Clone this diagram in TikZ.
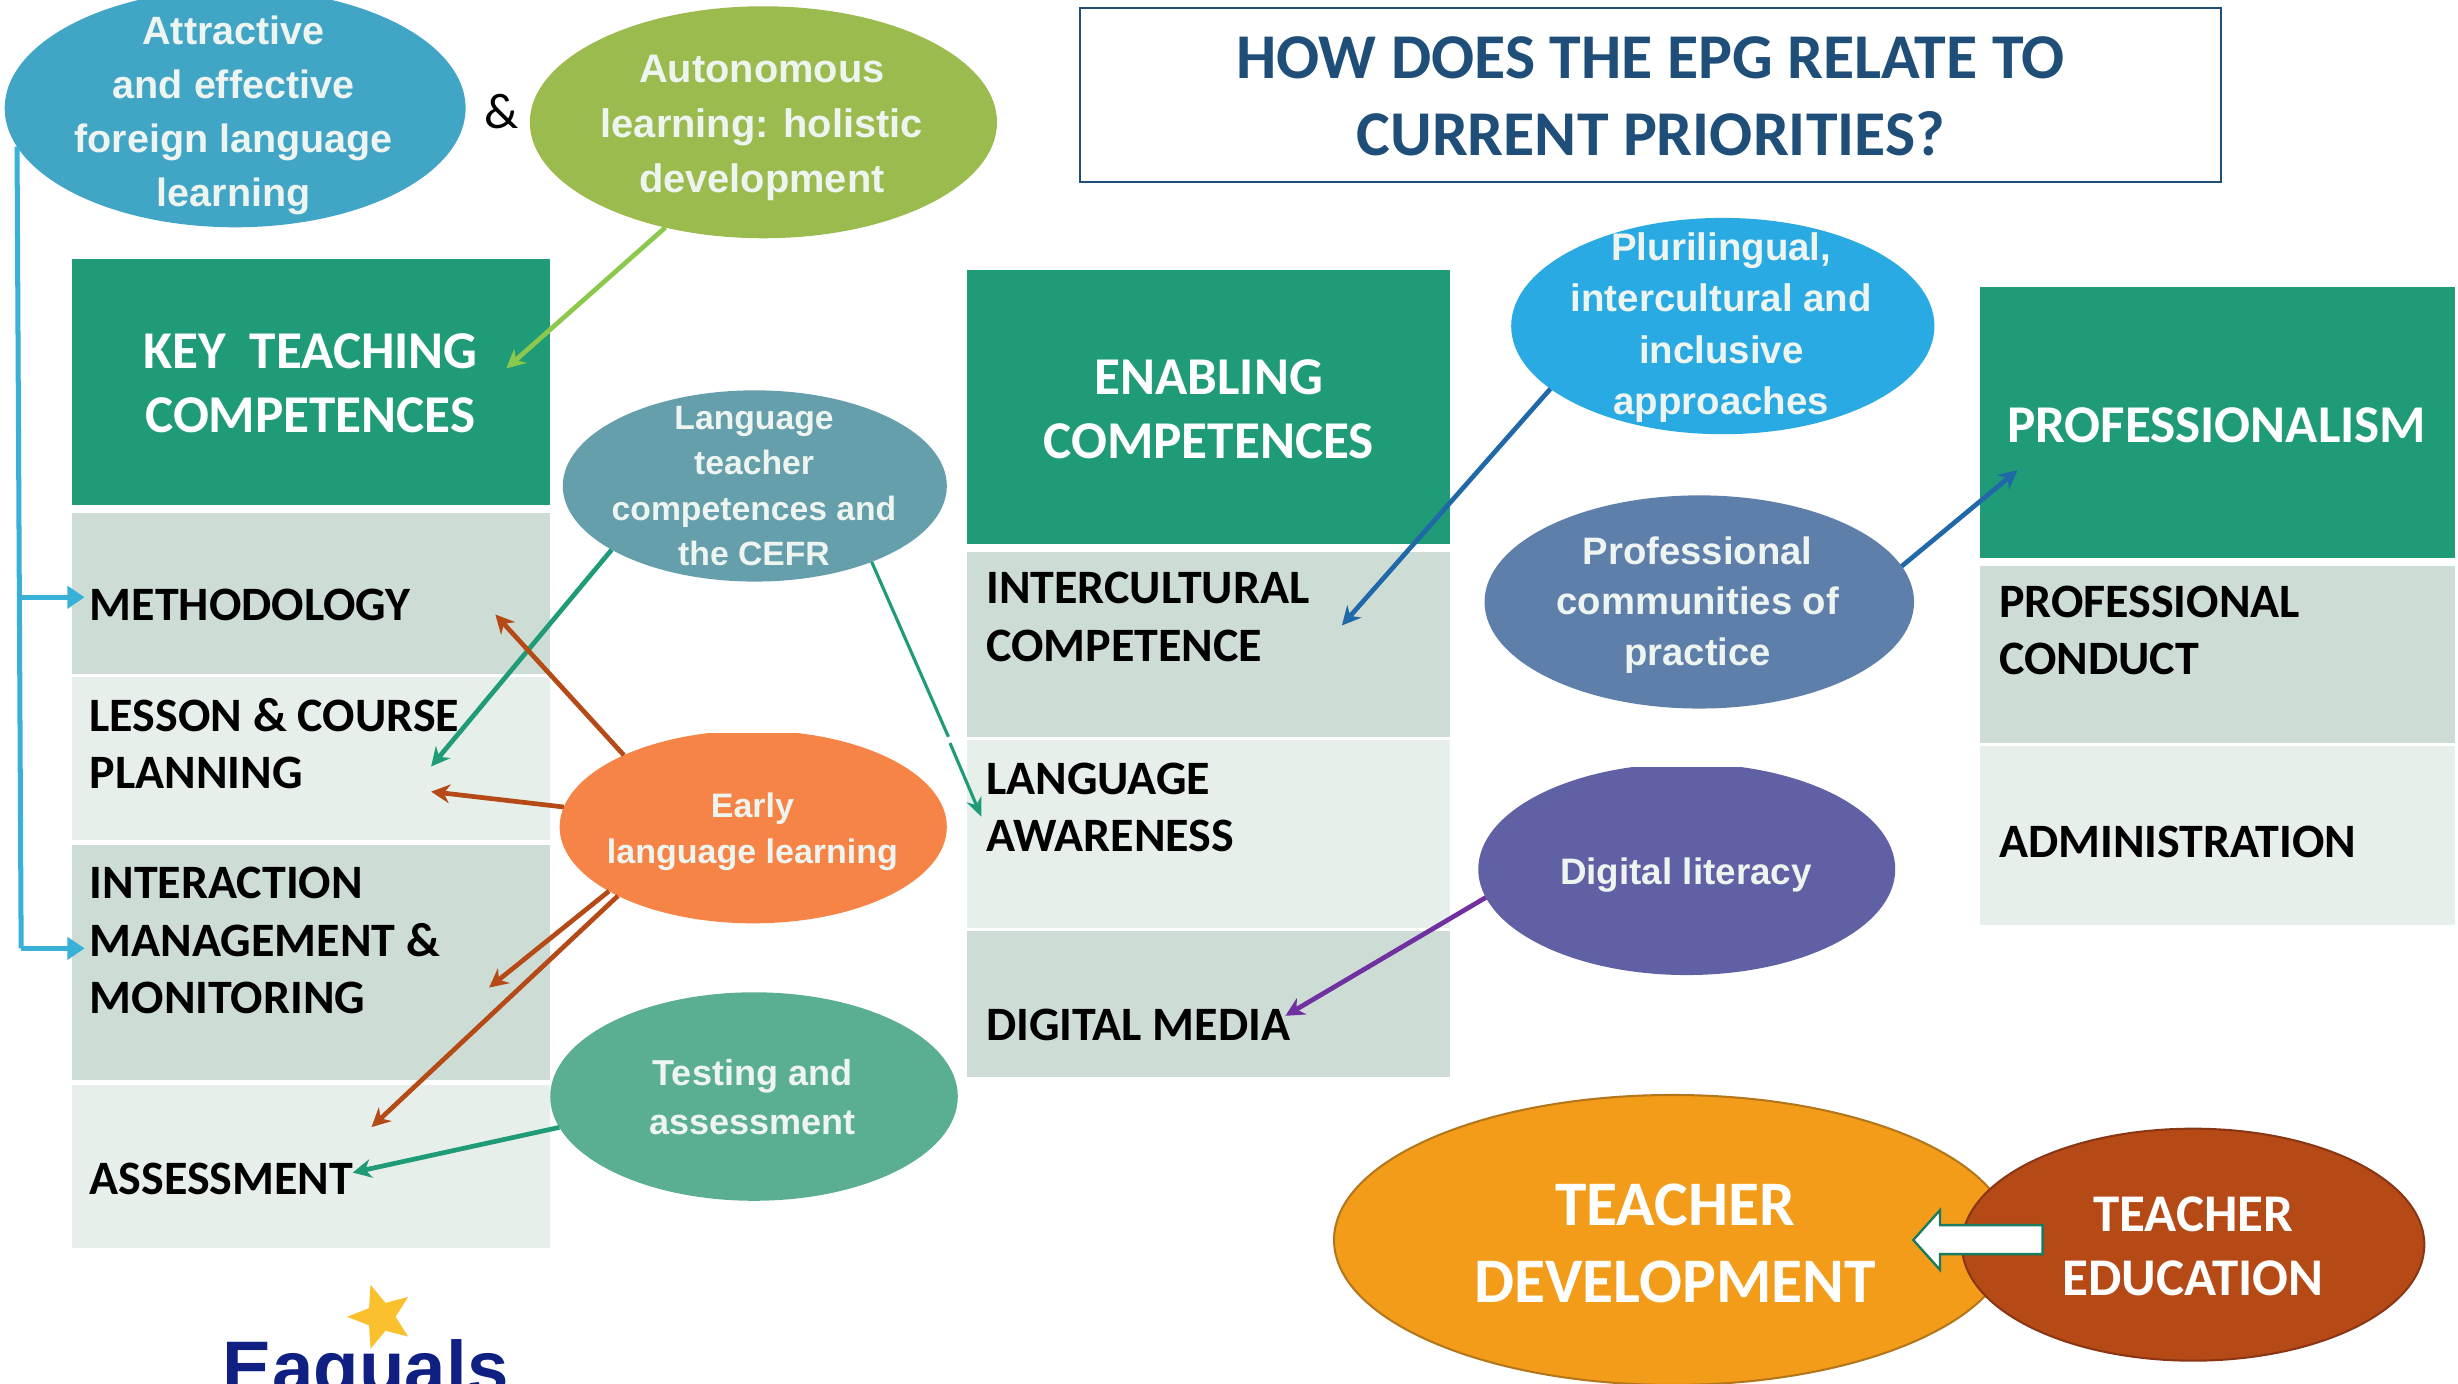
\documentclass[tikz,border=0pt]{standalone}
\usepackage{fontspec}
\setmainfont{Liberation Sans}
\newfontfamily\carl{Carlito}
\usetikzlibrary{arrows.meta,shapes.geometric}
\newcommand\fsz[2]{\fontsize{#1}{#2}\selectfont}
\definecolor{hdr}{HTML}{1F9B78}
\definecolor{rowd}{HTML}{CDDDD5}
\definecolor{rowl}{HTML}{E7EFEB}
\definecolor{titleblue}{HTML}{1F4E79}
\definecolor{ovalw}{HTML}{EEF4F0}
\definecolor{cAttr}{HTML}{41A5C6}
\definecolor{cAuto}{HTML}{9BBB4F}
\definecolor{cLang}{HTML}{659FAC}
\definecolor{cEarly}{HTML}{F68446}
\definecolor{cTest}{HTML}{5AAE92}
\definecolor{cPluri}{HTML}{2AAAE2}
\definecolor{cProf}{HTML}{5F7FAB}
\definecolor{cDig}{HTML}{6060A4}
\definecolor{cDev}{HTML}{F39C1A}
\definecolor{cDevB}{HTML}{B3761A}
\definecolor{cEdu}{HTML}{B54A17}
\definecolor{cEduB}{HTML}{8A3614}
\definecolor{aLime}{HTML}{8CC84B}
\definecolor{aBlue}{HTML}{38B0D8}
\definecolor{aDeep}{HTML}{2068A8}
\definecolor{aPurple}{HTML}{7030A0}
\definecolor{navy}{HTML}{0F1F82}
\definecolor{starc}{HTML}{FBC02D}
\tikzset{
  oval/.style={ellipse,draw=none,inner sep=0pt,outer sep=0pt},
  band/.style={rectangle,draw=none,inner sep=0pt,outer sep=0pt,anchor=north west},
  ot/.style={text=ovalw,font=\bfseries,align=center,inner sep=0pt},
  rowtext/.style={text=black,anchor=west,align=left,inner sep=0pt,font=\carl\bfseries\fsz{30.6}{36.5}},
  headtext/.style={text=white,align=center,inner sep=0pt,font=\carl\bfseries\fsz{33.9}{41}},
  conn/.style={line width=3pt,-{Stealth[length=12pt,width=12pt]}},
  thinconn/.style={line width=2pt,-{Stealth[length=12pt,width=10pt]}},
  bluearrow/.style={line width=3.2pt,-{Triangle[length=11pt,width=14pt]}},
}
\begin{document}
\begin{tikzpicture}[x=1pt,y=-1pt]
\clip (0,0) rectangle (1568,882.25);
\fill[white] (0,0) rectangle (1568,882.25);

% title
\node[rectangle,draw=titleblue,line width=1.2pt,inner sep=0pt,minimum width=728pt,minimum height=111pt] (titlebox) at (1053,60.5) {};
\node[text=titleblue,align=center,inner sep=0pt,font=\carl\bfseries\fsz{40.7}{49}] (titletext) at (1053,61.5) {HOW DOES THE EPG RELATE TO\\CURRENT PRIORITIES?};

% key teaching column
\node[band,fill=hdr,minimum width=305pt,minimum height=157pt] (keyhead) at (46,165) {};
\node[band,fill=rowd,minimum width=305pt,minimum height=103pt] (methrow) at (46,327) {};
\node[band,fill=rowl,minimum width=305pt,minimum height=104pt] (lessrow) at (46,432) {};
\node[band,fill=rowd,minimum width=305pt,minimum height=150pt] (interrow) at (46,539) {};
\node[band,fill=rowl,minimum width=305pt,minimum height=104pt] (assrow) at (46,692) {};
\node[headtext] (keytext) at (198,244.5) {KEY\ \ TEACHING\\COMPETENCES};
\node[rowtext] (methtext) at (57,386) {METHODOLOGY};
\node[rowtext] (lesstext) at (57,474.5) {LESSON \& COURSE\\PLANNING};
\node[rowtext] (intertext) at (57,600) {INTERACTION\\MANAGEMENT \&\\MONITORING};
\node[rowtext] (asstext) at (57,752) {ASSESSMENT};

% enabling column
\node[band,fill=hdr,minimum width=308pt,minimum height=175pt] (enhead) at (617,172) {};
\node[band,fill=rowd,minimum width=308pt,minimum height=118pt] (icrow) at (617,352) {};
\node[band,fill=rowl,minimum width=308pt,minimum height=120pt] (larow) at (617,472) {};
\node[band,fill=rowd,minimum width=308pt,minimum height=93pt] (dmrow) at (617,594) {};
\node[headtext] (entext) at (771,261) {ENABLING\\COMPETENCES};
\node[rowtext] (ictext) at (629,393.5) {INTERCULTURAL\\COMPETENCE};
\node[rowtext] (latext) at (629,515) {LANGUAGE\\AWARENESS};
\node[rowtext] (dmtext) at (629,654) {DIGITAL MEDIA};

% professionalism column
\node[band,fill=hdr,minimum width=303pt,minimum height=173pt] (prhead) at (1263,183) {};
\node[band,fill=rowd,minimum width=303pt,minimum height=113pt] (pcrow) at (1263,361) {};
\node[band,fill=rowl,minimum width=303pt,minimum height=114pt] (adrow) at (1263,476) {};
\node[headtext] (prtext) at (1414,271) {PROFESSIONALISM};
\node[rowtext] (pctext) at (1275,402) {PROFESSIONAL\\CONDUCT};
\node[rowtext] (adtext) at (1275,537) {ADMINISTRATION};

% ovals
\node[oval,fill=cAttr,minimum width=294pt,minimum height=152pt] (attr) at (150,69) {};
\node[ot,font=\bfseries\fsz{25.2}{34.5}] (attrtext) at (149,73.5) {Attractive\\and effective\\foreign language\\learning};
\node[oval,fill=cAuto,minimum width=298pt,minimum height=148pt] (auto) at (487,78) {};
\node[ot,font=\bfseries\fsz{25.4}{35}] (autotext) at (486,81.5) {Autonomous\\learning: holistic\\development};
\node[inner sep=0pt,font=\carl\fsz{32}{36}] (amp) at (320,71) {\&};
\node[oval,fill=cLang,minimum width=245pt,minimum height=122pt] (lang) at (481.5,310) {};
\node[ot,font=\bfseries\fsz{21.5}{29}] (langtext) at (481,310) {Language\\teacher\\competences and\\the CEFR};
\begin{scope}
\clip (340,468) rectangle (620,600);
\node[oval,fill=cEarly,minimum width=247pt,minimum height=123pt] (early) at (480.5,527.5) {};
\end{scope}
\node[ot,font=\bfseries\fsz{21.7}{29}] (earlytext) at (480,530.5) {Early\\language learning};
\node[oval,fill=cTest,minimum width=260pt,minimum height=133pt] (test) at (481,699.5) {};
\node[ot,font=\bfseries\fsz{23}{31}] (testtext) at (480,700) {Testing and\\assessment};
\node[oval,fill=cPluri,minimum width=270pt,minimum height=138pt] (pluri) at (1099,208) {};
\node[ot,font=\bfseries\fsz{24.5}{32.7}] (pluritext) at (1098,209) {Plurilingual,\\intercultural and\\inclusive\\approaches};
\node[oval,fill=cProf,minimum width=274pt,minimum height=136pt] (prof) at (1084,384) {};
\node[ot,font=\bfseries\fsz{24.4}{32}] (proftext) at (1083,386) {Professional\\communities of\\practice};
\begin{scope}
\clip (930,489.4) rectangle (1220,630);
\node[oval,fill=cDig,minimum width=266pt,minimum height=135pt] (dig) at (1076,554.5) {};
\end{scope}
\node[ot,font=\bfseries\fsz{23.5}{29}] (digtext) at (1075.5,558) {Digital literacy};

% teacher development / education
\node[oval,draw=cDevB,line width=1.3pt,fill=cDev,minimum width=432pt,minimum height=185pt] (dev) at (1067,791) {};
\node[oval,draw=cEduB,line width=1.3pt,fill=cEdu,minimum width=295pt,minimum height=148pt] (edu) at (1399,794) {};
\node[text=white,align=center,inner sep=0pt,font=\carl\bfseries\fsz{40.5}{49}] (devtext) at (1068.5,793) {TEACHER\\DEVELOPMENT};
\node[text=white,align=center,inner sep=0pt,font=\carl\bfseries\fsz{33.8}{41}] (edutext) at (1399,795) {TEACHER\\EDUCATION};
\draw[draw=hdr!80!black,line width=1.5pt,fill=white] (1220.5,791) -- (1237.5,772) -- (1237.5,781.5) -- (1303,781.5) -- (1303,800) -- (1237.5,800) -- (1237.5,810) -- cycle;

% logo
\node[star,star points=5,star point ratio=2.3,fill=starc,inner sep=0pt,minimum size=43pt,rotate=90] (logostar) at (243,840) {};
\node[text=navy,inner sep=0pt,anchor=base west,font=\bfseries\fsz{47.5}{50}] (logotext) at (142,889) {Eaquals};

% connector end points
\coordinate (autoEnd) at (323,235);
\coordinate (langEndL) at (275,489);
\coordinate (gapA) at (605,470);
\coordinate (gapB) at (606,474);
\coordinate (langEndR) at (626,521);
\coordinate (earlyEndA) at (316,392);
\coordinate (earlyEndB) at (275,505);
\coordinate (earlyEndC) at (312,630);
\coordinate (earlyEndD) at (237,719);
\coordinate (testEnd) at (225,748);
\coordinate (pluriEnd) at (856,399);
\coordinate (profEnd) at (1287,300);
\coordinate (digEnd) at (820,648);
\coordinate (spineM) at (13,381);
\coordinate (spineB) at (13.5,605);
\coordinate (tipM) at (54,381);
\coordinate (tipB) at (54,605);

% connectors
\draw[conn,aLime] (auto.227) -- (autoEnd);
\draw[line width=3.2pt,aBlue] (attr.190.6) -- (spineB);
\draw[bluearrow,aBlue] (spineM) -- (tipM);
\draw[bluearrow,aBlue] (spineB) -- (tipB);
\draw[conn,hdr] (lang.204) -- (langEndL);
\draw[line width=2pt,hdr] (lang.327) -- (gapA);
\draw[thinconn,hdr] (gapB) -- (langEndR);
\draw[conn,cEdu] (early.151) -- (earlyEndA);
\draw[conn,cEdu] (early.174.5) -- (earlyEndB);
\draw[conn,cEdu] (early.204) -- (earlyEndC);
\draw[conn,cEdu] (early.207) -- (earlyEndD);
\draw[conn,hdr] (test.189.8) -- (testEnd);
\draw[conn,aDeep] (pluri.200) -- (pluriEnd);
\draw[conn,aDeep] (prof.10.8) -- (profEnd);
\draw[conn,aPurple] (dig.188.8) -- (digEnd);
\end{tikzpicture}
\end{document}
